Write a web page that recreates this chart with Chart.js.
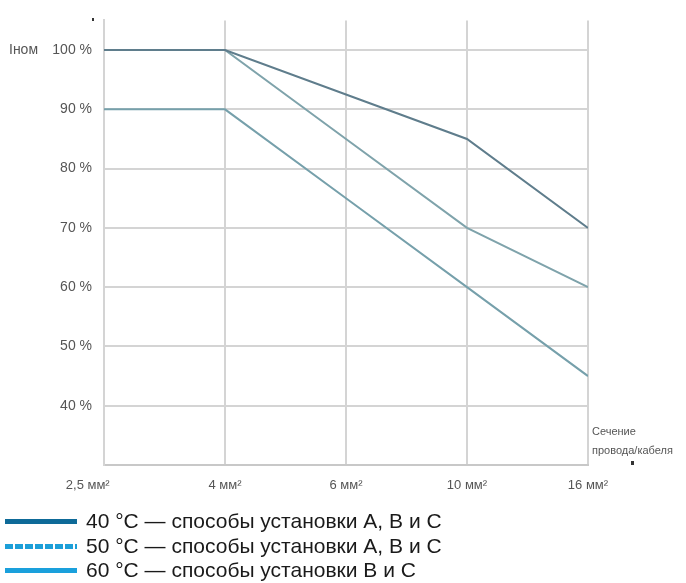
<!DOCTYPE html>
<html>
<head>
<meta charset="utf-8">
<script src="https://cdn.jsdelivr.net/npm/chart.js@4"></script>
<style>
  body { margin: 0; background: #fff; font-family: "Liberation Sans", Arial, sans-serif; }
  #wrap { position: relative; width: 686px; height: 505px; }
  .legend { position: absolute; left: 0; top: 0; width: 686px; height: 583px; pointer-events: none; }
  .sw { position: absolute; left: 5px; width: 72px; height: 5px; }
  .txt { position: absolute; left: 86px; white-space: nowrap; font-size: 21px; line-height: 24px; color: #1a1a1a; }
</style>
</head>
<body>
<div id="wrap"><canvas id="myChart"></canvas></div>
<div class="legend" id="legend"></div>
<script>
/* data */
const xLabels = ['2,5 мм²', '4 мм²', '6 мм²', '10 мм²', '16 мм²'];
const yTicks = [40, 50, 60, 70, 80, 90, 100];
const t40 = [100, 100, 92.5, 85, 70];
const t50 = [100, 100, 85, 70, 60];
const t60 = [90, 90, 75, 60, 45];
const seriesNames = [
  '40 °C — способы установки A, B и C',
  '50 °C — способы установки A, B и C',
  '60 °C — способы установки B и C'
];

function pts(arr){
  return arr.map((v, i) => ({x: i, y: v}));
}

/* legend under the chart, plain html */
const legendStyles = [
  'background:#0e6a98',
  'background:repeating-linear-gradient(90deg,#1c9fd8 0 8px,transparent 8px 10px)',
  'background:#1aa0dc'
];
const legendMid = [521, 546, 570];
document.getElementById('legend').innerHTML = seriesNames.map((name, i) =>
  `<div class="sw" style="top:${legendMid[i] - 2}px;${legendStyles[i]}"></div>` +
  `<div class="txt" style="top:${legendMid[i] - 12}px">${name}</div>`).join('');

/* extra texts on the canvas */
const extraText = {
  id: 'extraText',
  afterDraw(chart){
    const c = chart.ctx;
    const y = chart.scales.y;
    c.save();
    c.fillStyle = '#555';
    c.font = '14px "Liberation Sans", Arial';
    c.textBaseline = 'middle';
    c.textAlign = 'left';
    c.fillText('Iном', 9, y.getPixelForValue(100));
    c.font = '11px "Liberation Sans", Arial';
    c.fillText('Сечение', 592, 432);
    c.fillText('провода/кабеля', 592, 451);
    c.fillStyle = '#333';
    c.fillRect(631, 461, 3, 4);
    c.fillRect(92, 18, 2, 3);
    c.restore();
  }
};

const ctx = document.getElementById('myChart');
ctx.width = 686;
ctx.height = 505;

new Chart(ctx, {
  type: 'line',
  plugins: [extraText],
  data: {
    datasets: [{
      label: seriesNames[0],
      data: pts(t40),
      borderColor: '#5f7d8c',
      borderWidth: 2
    }, {
      label: seriesNames[1],
      data: pts(t50),
      borderColor: '#7fa3ab',
      borderWidth: 2
    }, {
      label: seriesNames[2],
      data: pts(t60),
      borderColor: '#76a0ab',
      borderWidth: 2
    }]
  },
  options: {
    responsive: false,
    animation: false,
    elements: { point: { radius: 0 }, line: { tension: 0 } },
    layout: { padding: { top: 17, right: 98, left: 0, bottom: 0 } },
    plugins: { legend: { display: false }, tooltip: { enabled: false } },
    scales: {
      x: {
        type: 'linear',
        min: 0,
        max: 4,
        afterFit: s => { s.height = 40; },
        grid: { color: '#d4d4d4', lineWidth: 2, drawTicks: false },
        border: { color: '#c8c8c8', width: 2 },
        ticks: {
          stepSize: 1,
          padding: 13,
          color: '#555',
          font: { size: 13, family: '"Liberation Sans", Arial' },
          // first label sits left of the axis in the original
          callback: v => v === 0 ? xLabels[v] + '         ' : xLabels[v]
        }
      },
      y: {
        min: 30,
        max: 105,
        afterFit: s => { s.width = 104; },
        afterBuildTicks: s => { s.ticks = [30].concat(yTicks).map(v => ({value: v})); },
        grid: { color: '#d4d4d4', lineWidth: 2, drawTicks: false },
        border: { color: '#d4d4d4', width: 2 },
        ticks: {
          padding: 12,
          color: '#555',
          font: { size: 14, family: '"Liberation Sans", Arial' },
          callback: v => v === 30 ? '' : v + ' %'
        }
      }
    }
  }
});
</script>
</body>
</html>
